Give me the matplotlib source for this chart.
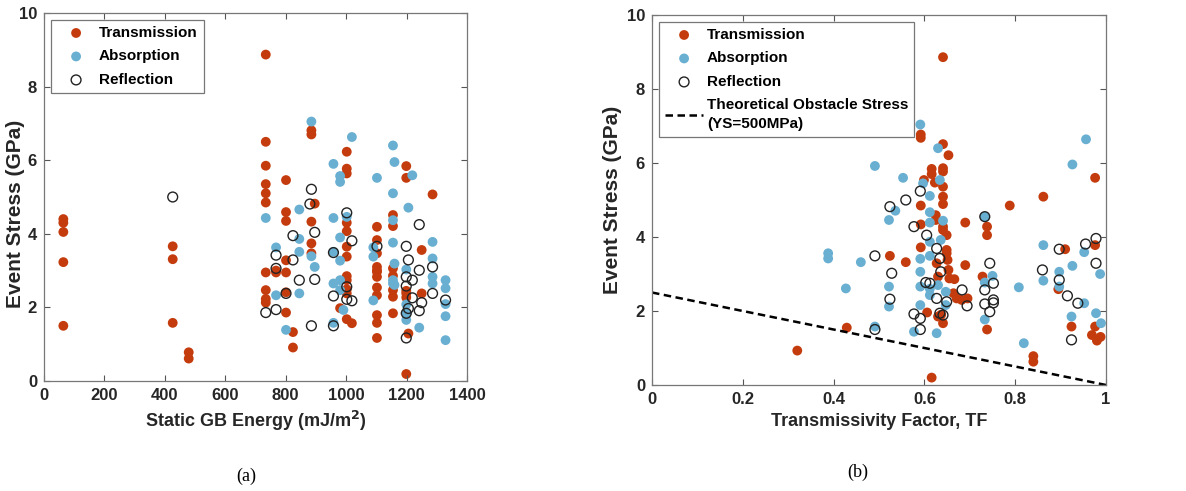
import numpy as np
import matplotlib
matplotlib.use("Agg")
import matplotlib.pyplot as plt

# ---- panel (a): static GB energy vs event stress ----
trans_energy = [64, 64, 64, 64, 64,
                426, 426, 426,
                479, 479,
                734, 734, 734, 734, 734, 734, 734, 734, 734, 734,
                768, 768,
                801, 801, 801, 801, 801, 801, 801,
                824, 824,
                885, 885, 885, 885, 885, 896,
                1002, 1002, 1002, 1002, 1002, 1002, 1002, 1002, 1002, 1002, 1002, 1002, 980,
                1019,
                1102, 1102, 1102, 1102, 1102, 1102, 1102, 1102, 1102, 1102, 1102, 1102,
                1155, 1155, 1155, 1155, 1155, 1155, 1155,
                1199, 1199, 1199, 1199, 1199, 1199, 1206,
                1250, 1250, 1286]
trans_stress_a = [4.40, 4.30, 4.05, 3.23, 1.50,
                  3.66, 3.31, 1.58,
                  0.78, 0.61,
                  8.87, 6.50, 5.85, 5.35, 5.10, 4.85, 2.95, 2.47, 2.23, 2.13,
                  2.95, 3.00,
                  5.46, 4.59, 4.35, 3.28, 2.95, 2.41, 1.86,
                  1.33, 0.91,
                  6.81, 6.70, 4.33, 3.74, 3.47, 4.82,
                  6.23, 5.77, 5.64, 4.30, 4.07, 3.65, 3.38, 2.85, 2.74, 2.49, 2.38, 1.68, 1.98,
                  1.57,
                  4.19, 3.83, 3.47, 3.10, 2.97, 2.83, 2.54, 2.33, 1.79, 1.58, 1.17, 3.00,
                  4.51, 4.21, 3.06, 2.86, 2.47, 2.29, 1.84,
                  5.84, 5.52, 2.38, 2.27, 0.19, 2.45, 1.29,
                  3.56, 2.38, 5.07]

absorb_energy = [734, 768, 768, 801, 845, 845, 845, 845, 885, 885, 896,
                 958, 958, 958, 958, 958, 980, 980, 980, 980, 980, 980, 991, 1002,
                 1019, 1090, 1090, 1090, 1102,
                 1155, 1155, 1155, 1155, 1155, 1155, 1160, 1160, 1160,
                 1199, 1199, 1199, 1199, 1206, 1219, 1242,
                 1286, 1286, 1286, 1286, 1329, 1329, 1329, 1329, 1329]
absorb_stress_a = [4.43, 3.63, 2.33, 1.39, 4.66, 3.86, 3.51, 2.38, 7.05, 3.39, 3.10,
                   5.90, 4.43, 3.51, 2.65, 1.58, 5.57, 5.41, 3.90, 3.27, 2.74, 2.47, 1.93, 4.46,
                   6.63, 3.63, 3.38, 2.19, 5.52,
                   6.40, 5.10, 4.37, 3.76, 2.74, 2.65, 5.95, 3.19, 2.61,
                   3.03, 2.08, 1.66, 1.84, 4.71, 5.59, 1.45,
                   3.78, 3.33, 2.83, 2.65, 2.74, 2.52, 2.09, 1.76, 1.11]

refl_energy = [426, 734, 768, 768, 768, 801, 824, 824, 845, 880, 885, 885, 896, 896,
               958, 958, 958, 1002, 1002, 1002, 1019, 1019, 1102,
               1199, 1199, 1199, 1199, 1199, 1206, 1206, 1219, 1219,
               1242, 1242, 1242, 1250, 1286, 1286, 1329]
refl_stress_a = [5.00, 1.86, 3.42, 3.06, 1.94, 2.38, 3.95, 3.29, 2.74, 4.81, 5.21, 1.50, 4.04, 2.76,
                 3.49, 2.31, 1.50, 4.57, 2.56, 2.22, 3.81, 2.18, 3.66,
                 3.66, 2.83, 2.58, 1.84, 1.17, 3.29, 1.97, 2.74, 2.26,
                 4.25, 3.01, 1.91, 2.13, 3.10, 2.38, 2.20]

# ---- panel (b): transmissivity factor vs event stress ----
trans_tf = [0.32, 0.429, 0.524, 0.559, 0.592, 0.592, 0.592, 0.592, 0.592, 0.599, 0.606,
            0.616, 0.616, 0.616, 0.623, 0.625, 0.625, 0.627, 0.630,
            0.641, 0.641, 0.641, 0.641, 0.641, 0.641, 0.641, 0.641, 0.641, 0.641,
            0.653, 0.649, 0.649, 0.649, 0.651, 0.653, 0.655, 0.637, 0.630,
            0.666, 0.664, 0.671, 0.682, 0.690, 0.690, 0.695,
            0.728, 0.738, 0.738, 0.738, 0.788, 0.840, 0.840, 0.862,
            0.910, 0.895, 0.924, 0.976, 0.976, 0.976, 0.969, 0.980, 0.988]
trans_stress_b = [0.93, 1.55, 3.49, 3.32, 6.77, 6.68, 4.85, 4.34, 3.72, 5.54, 1.96,
                  5.84, 5.70, 0.20, 5.47, 4.59, 4.46, 3.29, 2.93,
                  8.86, 6.51, 5.86, 5.77, 5.36, 5.09, 4.89, 4.28, 4.19, 1.67,
                  6.21, 4.05, 3.65, 3.56, 3.38, 3.11, 2.88, 1.90, 1.85,
                  2.86, 2.48, 2.34, 2.30, 4.39, 3.24, 2.34,
                  2.93, 4.28, 4.05, 1.50, 4.85, 0.78, 0.63, 5.09,
                  3.67, 2.59, 1.58, 5.60, 3.78, 1.58, 1.35, 1.20, 1.30]

absorb_tf = [0.388, 0.388, 0.427, 0.460, 0.491, 0.491, 0.522, 0.522, 0.522, 0.536, 0.553,
             0.577, 0.591, 0.591, 0.591, 0.591, 0.591, 0.597,
             0.612, 0.612, 0.612, 0.612, 0.612, 0.612, 0.612,
             0.627, 0.630, 0.634, 0.636, 0.641, 0.630, 0.647, 0.647,
             0.733, 0.733, 0.733, 0.750, 0.808, 0.819, 0.862, 0.862,
             0.897, 0.897, 0.926, 0.926, 0.924, 0.952, 0.952, 0.956, 0.978, 0.987, 0.989]
absorb_stress_b = [3.56, 3.42, 2.61, 3.32, 5.92, 1.58, 4.46, 2.66, 2.12, 4.71, 5.60,
                   1.44, 7.04, 3.41, 3.06, 2.66, 2.16, 5.45,
                   5.11, 4.67, 4.39, 3.87, 3.49, 2.43, 2.60,
                   1.40, 6.40, 5.54, 3.92, 4.44, 2.70, 2.52, 2.16,
                   2.77, 1.77, 4.55, 2.95, 2.64, 1.13, 3.78, 2.82,
                   3.06, 2.66, 5.96, 3.22, 1.85, 2.21, 3.59, 6.64, 1.94, 3.00, 1.67]

refl_tf = [0.491, 0.491, 0.524, 0.528, 0.524, 0.559, 0.577, 0.577, 0.591, 0.591, 0.591,
           0.605, 0.603, 0.612, 0.627, 0.627, 0.634, 0.636, 0.634, 0.641, 0.649,
           0.683, 0.694, 0.733, 0.733, 0.733, 0.744, 0.744, 0.752, 0.752, 0.752,
           0.860, 0.897, 0.897, 0.915, 0.924, 0.938, 0.955, 0.978, 0.978]
refl_stress_b = [3.49, 1.50, 4.82, 3.02, 2.32, 5.00, 4.28, 1.92, 5.24, 1.80, 1.50,
                 4.05, 2.77, 2.75, 3.69, 2.34, 3.42, 3.06, 1.94, 1.89, 2.25,
                 2.57, 2.14, 4.55, 2.57, 2.19, 3.29, 1.98, 2.75, 2.30, 2.22,
                 3.11, 3.67, 2.84, 2.41, 1.22, 2.21, 3.81, 3.96, 3.29]

# theoretical obstacle stress line (YS = 500 MPa)
line_tf = [0.0, 1.0]
line_stress = [2.5, 0.0]

RED = "#C43C0E"
BLUE = "#69AFD1"
plt.rcParams["font.family"] = ["Liberation Sans", "DejaVu Sans"]
plt.rcParams["font.weight"] = "bold"

fig = plt.figure(figsize=(11.86, 4.91), dpi=100)
ax_a = fig.add_axes([44 / 1186, 1 - 381 / 491, 423 / 1186, 368 / 491])
ax_b = fig.add_axes([652 / 1186, 1 - 385 / 491, 454 / 1186, 370 / 491])

msize = 50


def style_axes(ax, ylab_x, ylab_y):
    ax.set_ylim(0, 10)
    ax.set_yticks([0, 2, 4, 6, 8, 10])
    ax.tick_params(direction="in", length=4, top=True, right=True, labelsize=12,
                   color="#555555", pad=5)
    for lbl in ax.get_xticklabels() + ax.get_yticklabels():
        lbl.set_fontweight("bold")
        lbl.set_color("#262626")
    for sp in ax.spines.values():
        sp.set_color("#777777")
        sp.set_linewidth(0.9)
    ax.set_ylabel("Event Stress (GPa)", fontsize=15, fontweight="bold", color="#262626")
    ax.yaxis.set_label_coords(ylab_x, ylab_y)


def add_legend(ax):
    leg = ax.legend(loc="upper left", fontsize=11, frameon=True, fancybox=False,
                    edgecolor="#555555", handletextpad=0.25, borderpad=0.4,
                    labelspacing=0.62, handlelength=2.5, borderaxespad=0.45)
    leg.get_frame().set_linewidth(0.9)
    for t in leg.get_texts():
        t.set_linespacing(1.45)
    return leg


# panel (a)
ax_a.scatter(trans_energy, trans_stress_a, s=msize, color=RED, edgecolors="none", label="Transmission")
ax_a.scatter(absorb_energy, absorb_stress_a, s=msize, color=BLUE, edgecolors="none", label="Absorption")
ax_a.scatter(refl_energy, refl_stress_a, s=msize, facecolors="none", edgecolors="#222222",
             linewidths=1.0, label="Reflection")
ax_a.set_xlim(0, 1400)
ax_a.set_xticks(range(0, 1401, 200))
style_axes(ax_a, -0.045, 0.455)
ax_a.set_xlabel("Static GB Energy (mJ/m$^\\mathbf{2}$)", fontsize=13, fontweight="bold", color="#262626")
add_legend(ax_a)

# panel (b)
ax_b.scatter(trans_tf, trans_stress_b, s=msize, color=RED, edgecolors="none", label="Transmission")
ax_b.scatter(absorb_tf, absorb_stress_b, s=msize, color=BLUE, edgecolors="none", label="Absorption")
ax_b.scatter(refl_tf, refl_stress_b, s=msize, facecolors="none", edgecolors="#222222",
             linewidths=1.0, label="Reflection")
ax_b.plot(line_tf, line_stress, color="black", linestyle=(0, (3, 1.8)), linewidth=1.8,
          label="Theoretical Obstacle Stress\n(YS=500MPa)")
ax_b.set_xlim(0, 1)
ax_b.set_xticks([0, 0.2, 0.4, 0.6, 0.8, 1])
ax_b.set_xticklabels(["0", "0.2", "0.4", "0.6", "0.8", "1"])
style_axes(ax_b, -0.066, 0.5)
ax_b.set_xlabel("Transmissivity Factor, TF", fontsize=13, fontweight="bold", color="#262626")
add_legend(ax_b)

fig.text(246 / 1186, 1 - 476 / 491, "(a)", fontsize=13, fontweight="normal",
         family=["Liberation Serif", "DejaVu Serif"], ha="center", va="center")
fig.text(858 / 1186, 1 - 472 / 491, "(b)", fontsize=13, fontweight="normal",
         family=["Liberation Serif", "DejaVu Serif"], ha="center", va="center")

fig.savefig("out.png", dpi=100, facecolor="white")
